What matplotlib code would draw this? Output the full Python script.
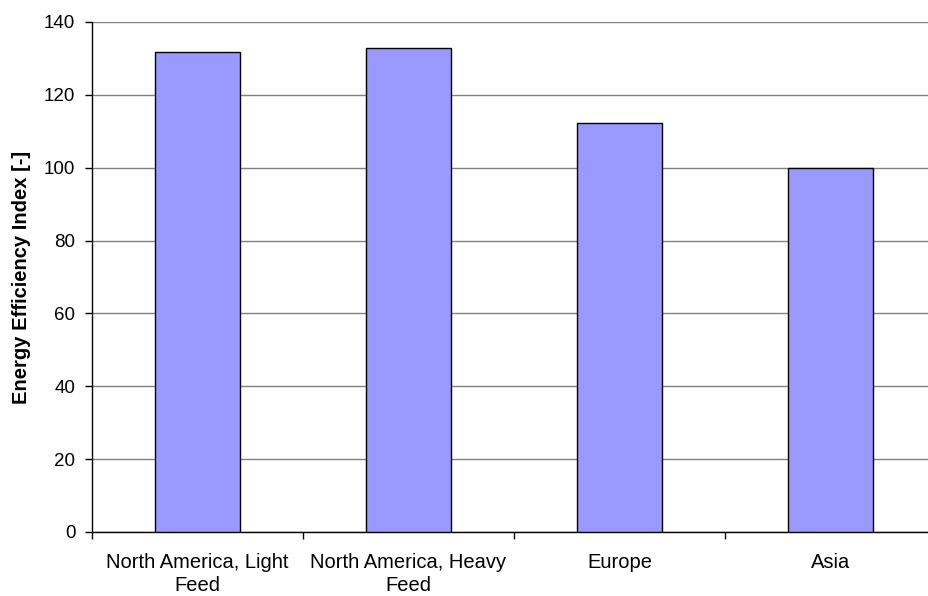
import numpy as np
import matplotlib.pyplot as plt

plt.rcParams['font.family'] = ['Liberation Sans', 'DejaVu Sans']

regiones = ['North America, Light\nFeed', 'North America, Heavy\nFeed', 'Europe', 'Asia']
eei = [131.8, 133.0, 112.2, 100.0]

fig = plt.figure(figsize=(9.29, 5.96), dpi=100)
ax = fig.add_axes([92/929, 64/596, 844/929, 510/596])

x = np.arange(len(regiones))
ax.bar(x, eei, width=0.4, color='#9999FF', edgecolor='black', linewidth=1.0, zorder=3)

ax.set_xlim(-0.5, len(regiones) - 0.5)
ax.set_ylim(0, 140)
ax.set_yticks(np.arange(0, 141, 20))
ax.yaxis.grid(True, color='#808080', linewidth=1.0, zorder=0)

# ticks between categories, labels centred under each bar
ax.set_xticks(np.arange(-0.5, len(regiones) + 0.5, 1))
ax.set_xticklabels([])
ax.set_xticks(x, minor=True)
ax.set_xticklabels(regiones, minor=True, fontsize=14.5, linespacing=1.3)
ax.tick_params(axis='x', which='minor', length=0, pad=15)
ax.tick_params(axis='x', which='major', length=5, direction='out', width=1)
ax.tick_params(axis='y', length=5, direction='out', width=1, labelsize=13.5, pad=7)

for lado in ['top', 'right']:
    ax.spines[lado].set_visible(False)
ax.spines['left'].set_linewidth(1.0)
ax.spines['bottom'].set_linewidth(1.0)

ax.set_ylabel('Energy Efficiency Index [-]', fontsize=14.5, fontweight='bold', labelpad=9)

fig.savefig('out.png', dpi=100)
